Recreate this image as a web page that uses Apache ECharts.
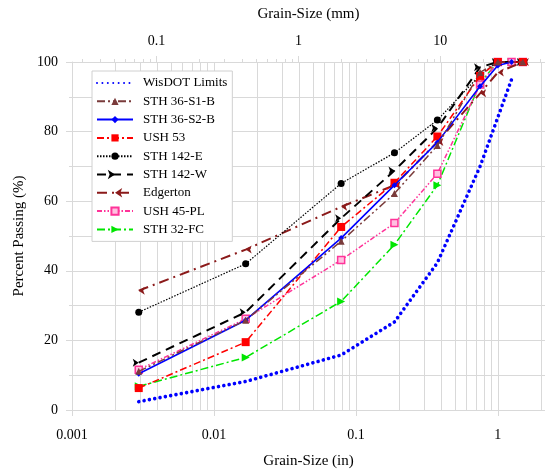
<!DOCTYPE html>
<html>
<head>
<meta charset="utf-8">
<script src="https://cdn.jsdelivr.net/npm/echarts@6/dist/echarts.min.js"></script>
<style>html,body{margin:0;padding:0;background:#fff}#c{width:545px;height:474px}</style>
</head>
<body>
<div id="c"></div>
<script>
// Sieve sizes (inches): #200, #40, #10, #4, 3/8", 3/4", 1", 1.25", 1.5"
const sieveIn = [0.002953, 0.01673, 0.07874, 0.187, 0.375, 0.75, 1.0, 1.25, 1.5];
const seriesNames = ['WisDOT Limits','STH 36-S1-B','STH 36-S2-B','USH 53','STH 142-E','STH 142-W','Edgerton','USH 45-PL','STH 32-FC'];
const wisdot   = [2.4, 8.2, 15.8, 25.3, 42.3, 70.0, null, 95.0, null];
const sth36s1b = [11.1, 25.8, 48.5, 62.2, 76.0, 97.0, 100, null, 100];
const sth36s2b = [10.4, 25.8, 49.4, 64.6, 76.9, 93.0, 99.0, 100, null];
const ush53    = [6.3, 19.5, 52.6, 65.3, 78.6, 96.0, 100, null, 100];
const sth142e  = [28.1, 42.0, 65.1, 73.9, 83.3, 96.3, 100, null, 100];
const sth142w  = [13.6, 28.1, 55.1, 68.8, 81.0, 98.5, 100, null, 100];
const edgerton = [34.3, 46.1, 58.4, 64.6, 77.0, 91.0, 97.0, null, 100];
const ush45pl  = [11.6, 26.2, 43.1, 53.7, 67.9, 93.5, 100, 100, 100];
const sth32fc  = [6.8, 15.1, 31.2, 47.5, 64.6, 94.0, 100, 100, 100];
// Axis ticks
const yTicks = [0, 20, 40, 60, 80, 100];
const inchMinorGrid = [0.002,0.003,0.004,0.005,0.006,0.007,0.008,0.009,
  0.02,0.03,0.04,0.05,0.06,0.07,0.08,0.09,0.2,0.3,0.4,0.5,0.6,0.7,0.8,0.9,2];
const mmMinorTicks = [0.03,0.04,0.05,0.06,0.07,0.08,0.09,0.2,0.3,0.4,0.5,0.6,0.7,0.8,0.9,
  2,3,4,5,6,7,8,9,20,30,40,50];

const FONT = "'Liberation Serif','Times New Roman',serif";
const GRID = '#d9d9d9';
const xMinIn = 0.001, xMaxIn = 2.15;

function pairs(vals){ return sieveIn.map((x,i)=>[x, vals[i]]).filter(p=>p[1]!==null); }

const styles = [
  {data: wisdot, color:'#0000ff', width:3.6, dash:[0.01,5.4], cap:'round', symbol:'none', size:0},
  {data: sth36s1b, color:'#7a3b3b', width:1.5, dash:[8,3,2,3,2,3], symbol:'triangle', size:7},
  {data: sth36s2b, color:'#0000ff', width:1.6, dash:'solid', symbol:'diamond', size:6},
  {data: ush53, color:'#ff0000', width:1.5, dash:[7,3,2,3], symbol:'rect', size:8},
  {data: sth142e, color:'#000000', width:1.2, dash:[1.5,1.5], symbol:'circle', size:7},
  {data: sth142w, color:'#000000', width:2, dash:[9,6], symbol:'arrow', size:6, rotate:-90},
  {data: edgerton, color:'#8b1a1a', width:2, dash:[10,5,2,5], symbol:'arrow', size:6, rotate:90},
  {data: ush45pl, color:'#ff3399', width:1.5, dash:[5,2,1.5,2,1.5,2], symbol:'rect', size:7, hollow:true},
  {data: sth32fc, color:'#00e600', width:1.5, dash:[8,3,2,3], symbol:'triangle', size:8, rotate:-90}
];

const lineSeries = styles.map((s,i)=>({
  name: seriesNames[i], type:'line', xAxisIndex:0, yAxisIndex:0,
  data: pairs(s.data), connectNulls:true,
  symbol: s.symbol, symbolSize: s.size, symbolRotate: s.rotate || 0, showSymbol: s.symbol!=='none',
  lineStyle:{color:s.color, width:s.width, type:s.dash, cap:s.cap||'butt'},
  itemStyle:{color: s.hollow ? '#ffc0e0' : s.color, borderColor:s.color, borderWidth: s.hollow?1.5:0},
  z: 10 - i, animation:false
}));

const gridSeries = {
  type:'custom', xAxisIndex:0, yAxisIndex:0, silent:true, z:0, animation:false,
  data: inchMinorGrid.map(v=>[v,0]),
  renderItem:(p, api)=>{
    const a = api.coord([api.value(0), 0]);
    const b = api.coord([api.value(0), 100]);
    const x = Math.round(a[0]) + 0.5;
    return {type:'line', shape:{x1:x, y1:a[1], x2:x, y2:b[1]}, style:{stroke:GRID, lineWidth:1}};
  }
};
const topTickSeries = {
  type:'custom', xAxisIndex:1, yAxisIndex:0, silent:true, z:0, animation:false, clip:false,
  data: mmMinorTicks.map(v=>[v,100]),
  renderItem:(p, api)=>{
    const a = api.coord([api.value(0), 100]);
    const x = Math.round(a[0]) + 0.5;
    return {type:'line', shape:{x1:x, y1:a[1], x2:x, y2:a[1]-3}, style:{stroke:GRID, lineWidth:1}};
  }
};

const legendData = seriesNames.map((n,i)=> i===0 ? {name:n, itemStyle:{opacity:0}} : {name:n});

const chart = echarts.init(document.getElementById('c'), null, {renderer:'canvas'});
chart.setOption({
  animation:false,
  backgroundColor:'#fff',
  grid:{left:72, right:0, top:62, bottom:60},
  legend:{
    data: legendData, orient:'vertical', left:92, top:71,
    backgroundColor:'#fff', borderColor:'#d0d0d0', borderWidth:1,
    padding:[5,5,5,4], itemWidth:36, itemHeight:9, itemGap:4.3,
    textStyle:{fontFamily:FONT, fontSize:13, color:'#000', lineHeight:14, padding:[0,0,0,5]}
  },
  xAxis:[
    {type:'log', logBase:10, min:xMinIn, max:xMaxIn, position:'bottom',
     name:'Grain-Size (in)', nameLocation:'middle', nameGap:44,
     nameTextStyle:{fontFamily:FONT, fontSize:15, color:'#000'},
     axisLine:{show:true, lineStyle:{color:GRID}},
     axisTick:{show:true, length:6, lineStyle:{color:GRID}},
     axisLabel:{fontFamily:FONT, fontSize:14, color:'#000', margin:18, showMaxLabel:false,
       formatter:v=>String(+v.toPrecision(6))},
     splitLine:{show:true, lineStyle:{color:GRID}}},
    {type:'log', logBase:10, min:xMinIn*25.4, max:xMaxIn*25.4, position:'top',
     name:'Grain-Size (mm)', nameLocation:'middle', nameGap:40,
     nameTextStyle:{fontFamily:FONT, fontSize:15, color:'#000'},
     axisLine:{show:true, lineStyle:{color:GRID}},
     axisTick:{show:true, length:6, lineStyle:{color:GRID}},
     axisLabel:{fontFamily:FONT, fontSize:14, color:'#000', margin:14, showMinLabel:false, showMaxLabel:false,
       formatter:v=>String(+v.toPrecision(6))},
     splitLine:{show:false}}
  ],
  yAxis:{type:'value', min:yTicks[0], max:yTicks[yTicks.length-1], interval:20,
     name:'Percent Passing (%)', nameLocation:'middle', nameGap:34,
     nameTextStyle:{fontFamily:FONT, fontSize:15, color:'#000'},
     axisLine:{show:true, lineStyle:{color:GRID}},
     axisTick:{show:true, length:6, lineStyle:{color:GRID}},
     minorTick:{show:true, splitNumber:2, length:3, lineStyle:{color:GRID}},
     axisLabel:{fontFamily:FONT, fontSize:14, color:'#000', margin:14},
     splitLine:{show:true, lineStyle:{color:GRID}},
     minorSplitLine:{show:true, lineStyle:{color:GRID}}},
  series:[gridSeries, topTickSeries].concat(lineSeries)
});
</script>
</body>
</html>
